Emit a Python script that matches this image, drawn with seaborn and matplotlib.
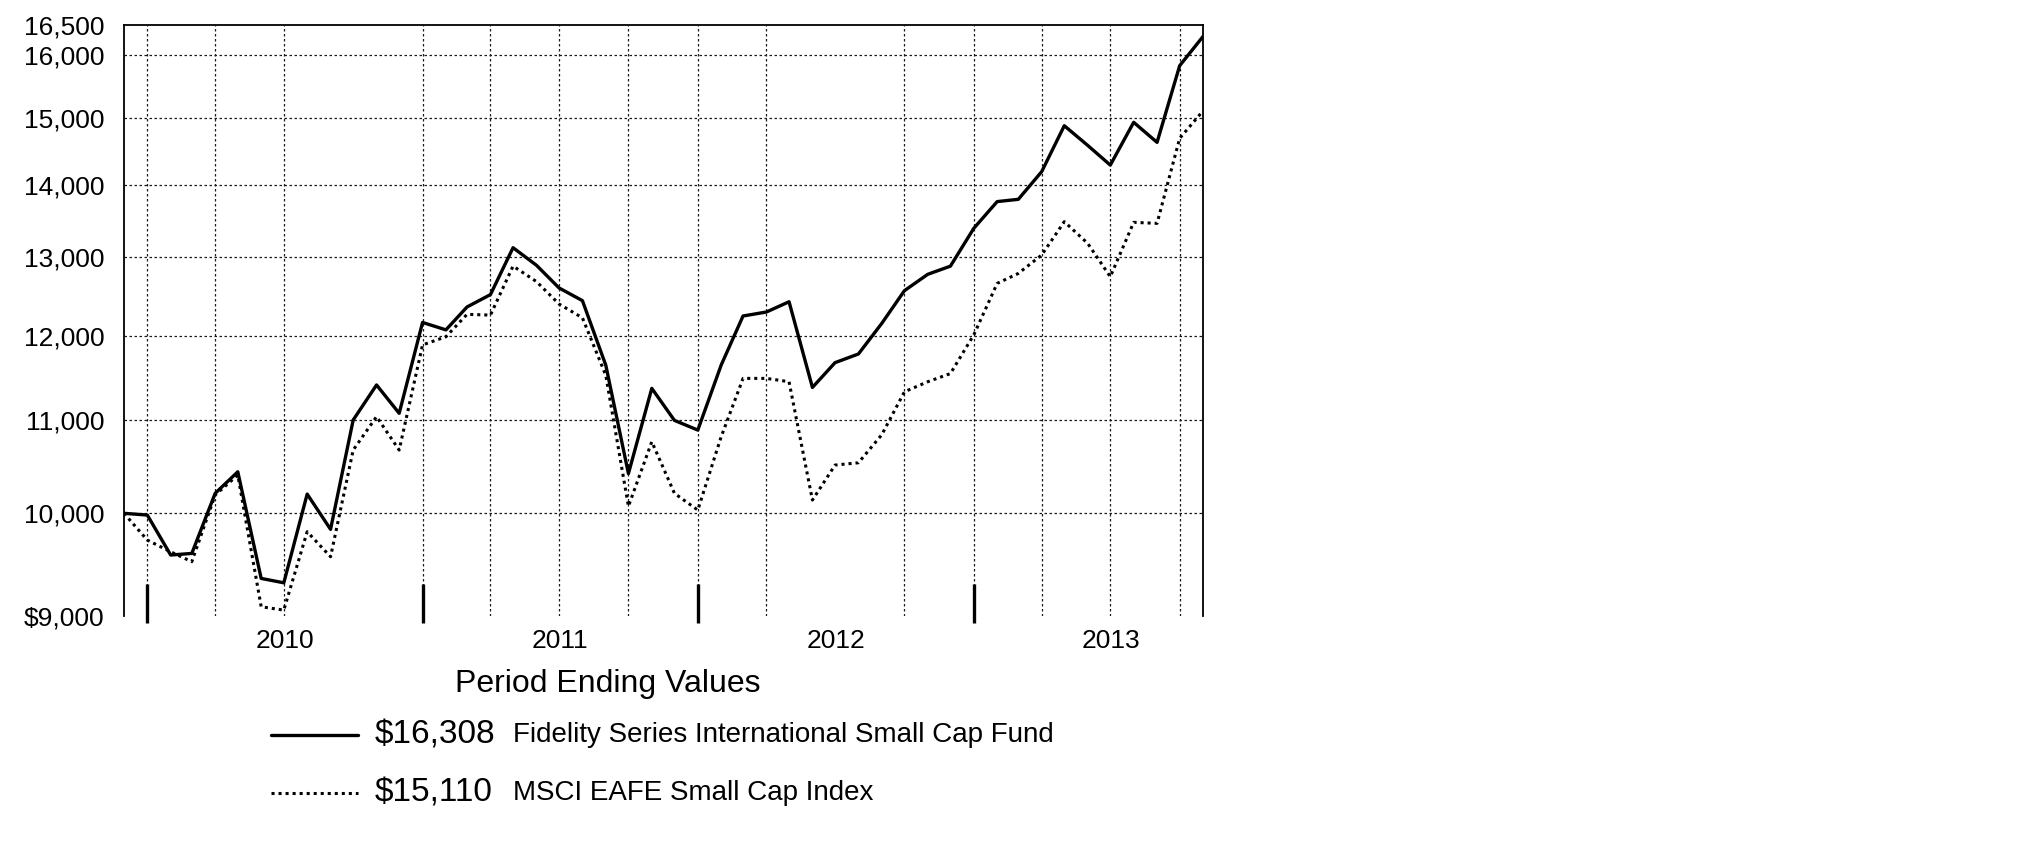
"""Growth of $10,000: Fidelity Series International Small Cap Fund vs MSCI EAFE Small Cap Index."""
import pandas as pd
import seaborn as sns
import matplotlib.pyplot as plt
import matplotlib.dates as mdates
from matplotlib.lines import Line2D
from matplotlib.ticker import FixedLocator, NullLocator

sns.set_style("white")
plt.rcParams["font.family"] = ["Liberation Sans", "DejaVu Sans"]
plt.rcParams["text.color"] = "black"


############################## Data (month-end values, Nov 2009 - Oct 2013).

months = pd.date_range("2009-11-30", periods=48, freq="ME")

fund = [10000, 9982, 9581, 9597, 10207, 10435, 9354, 9312, 10199, 9837,
        11004, 11407, 11080, 12162, 12070, 12357, 12514, 13131, 12897, 12600,
        12437, 11640, 10416, 11367, 11000, 10891, 11642, 12243, 12293, 12423,
        11378, 11671, 11775, 12151, 12565, 12778, 12885, 13395, 13767, 13799,
        14196, 14881, 14584, 14292, 14933, 14629, 15826, 16308]

index = [10000, 9729, 9613, 9516, 10190, 10400, 9086, 9055, 9813, 9564,
         10670, 11042, 10670, 11885, 11985, 12264, 12254, 12886, 12683, 12394,
         12220, 11520, 10072, 10762, 10207, 10033, 10817, 11484, 11484, 11445,
         10137, 10507, 10532, 10840, 11327, 11445, 11541, 12009, 12659, 12789,
         13033, 13486, 13190, 12746, 13477, 13463, 14690, 15110]

series_names = ["Fidelity Series International Small Cap Fund",
                "MSCI EAFE Small Cap Index"]
ending_labels = ["$16,308", "$15,110"]

y_ticks = [9000, 10000, 11000, 12000, 13000, 14000, 15000, 16000, 16500]
y_ticklabels = ["$9,000", "10,000", "11,000", "12,000", "13,000",
                "14,000", "15,000", "16,000", "16,500"]

years = ["2010", "2011", "2012", "2013"]
year_ends = ["2009-12-31", "2010-12-31", "2011-12-31", "2012-12-31"]
grid_months = ["2009-12-31", "2010-03-31", "2010-06-30", "2010-12-31",
               "2011-03-31", "2011-06-30", "2011-09-30", "2011-12-31",
               "2012-03-31", "2012-09-30", "2012-12-31", "2013-03-31",
               "2013-06-30", "2013-09-30"]

df = pd.DataFrame({"month": months, "fund": fund, "index": index})


############################## Figure.

fig, ax = plt.subplots(figsize=(20.25, 8.51), dpi=100)
fig.subplots_adjust(left=0.0612, right=0.5941, top=0.9706, bottom=0.2761)

SOLID_KW = dict(color="black", lw=2.4)
DOT_KW = dict(color="black", lw=2.2, ls=(0, (1, 1.3)))
GRID_KW = dict(color="#1a1a1a", lw=0.9, ls=(0, (2, 2)), zorder=0)

sns.lineplot(data=df, x="month", y="index", ax=ax, **DOT_KW)
sns.lineplot(data=df, x="month", y="fund", ax=ax, **SOLID_KW)

# y axis (log scale)
ax.set_yscale("log")
ax.set_ylim(y_ticks[0], y_ticks[-1])
ax.yaxis.set_major_locator(FixedLocator(y_ticks))
ax.yaxis.set_minor_locator(NullLocator())
ax.set_yticklabels(y_ticklabels)
for v in y_ticks[1:-1]:
    ax.axhline(v, **GRID_KW)

# x axis: year labels centred on each year, grid every quarter
ax.set_xlim(months[0], months[-1])
mid_years = [mdates.date2num(pd.Timestamp(f"{y}-07-01")) for y in years]
ax.xaxis.set_major_locator(FixedLocator(mid_years))
ax.xaxis.set_minor_locator(NullLocator())
ax.set_xticklabels(years)
for d in grid_months:
    ax.axvline(pd.Timestamp(d), **GRID_KW)
for d in year_ends:
    ax.axvline(pd.Timestamp(d), ymin=-0.012, ymax=0.054, color="black",
               lw=2.4, clip_on=False, solid_capstyle="butt")

ax.tick_params(axis="y", direction="out", length=10, width=1.6, pad=4,
               labelsize=19, colors="black")
ax.tick_params(axis="x", length=0, pad=9, labelsize=19, colors="black")
ax.set_xlabel("")
ax.set_ylabel("")
for side in ["left", "top", "right"]:
    ax.spines[side].set_visible(True)
    ax.spines[side].set_color("black")
    ax.spines[side].set_linewidth(1.3)
ax.spines["bottom"].set_visible(False)


############################## Legend block below the chart.

fig.text(0.300, 1 - 684 / 851, "Period Ending Values",
         fontsize=23, ha="center", va="center")
row_y = [1 - 735 / 851, 1 - 793 / 851]
for y, kw, val, name in zip(row_y, [SOLID_KW, DOT_KW], ending_labels, series_names):
    fig.add_artist(Line2D([0.1338, 0.1768], [y, y], transform=fig.transFigure, **kw))
    fig.text(0.185, y, val, fontsize=24, ha="left", va="center")
    fig.text(0.2533, y, name, fontsize=20, ha="left", va="center")

fig.savefig("out.png", dpi=100)
plt.close(fig)
